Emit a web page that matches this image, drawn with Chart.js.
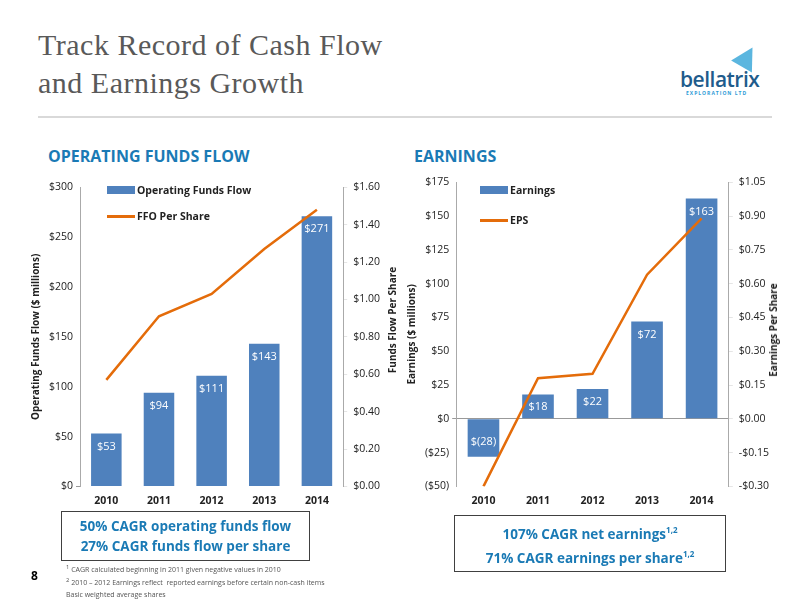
<!DOCTYPE html>
<html><head><meta charset="utf-8">
<script src="https://cdn.jsdelivr.net/npm/chart.js@4"></script>
<style>
body{margin:0;width:800px;height:600px;position:relative;background:#fff;font-family:"Open Sans",sans-serif;overflow:hidden}
.abs{position:absolute}
.title{left:38px;top:26px;font-family:"Liberation Serif",serif;font-size:30px;line-height:38px;color:#595959;letter-spacing:0.5px}
.rule{left:38px;top:116px;width:734px;height:2px;background:#d9d9d9}
.h{font-size:16px;font-weight:bold;color:#1a7ab5}
.box{border:1.5px solid #404040;text-align:center;color:#1a7ab5;font-weight:bold;font-size:13.5px;line-height:20px;padding:4px 0}
.leg{font-size:10.5px;font-weight:bold;color:#222;display:flex;align-items:center}
.sw{display:inline-block;width:28px;margin-right:2px}
.fn{left:66px;top:564px;font-size:7px;color:#555;line-height:11px}
.rt{font-size:10px;font-weight:bold;color:#222;transform:translate(-50%,-50%) rotate(-90deg);white-space:nowrap}
</style></head><body>
<div class="abs title">Track Record of Cash Flow<br>and Earnings Growth</div>
<div class="abs" style="left:680px;top:65px;font-size:21px;color:#1f5c8c;font-weight:600;letter-spacing:-0.5px">bellatrix</div>
<div class="abs" style="left:686px;top:90px;font-size:5px;color:#2e9bd6;letter-spacing:1px;font-weight:bold">EXPLORATION LTD</div>
<div class="abs" style="left:735px;top:46px;width:0;height:0;border-left:12px solid transparent;border-right:12px solid transparent;border-bottom:22px solid #5bb6df;transform:rotate(30deg)"></div>
<div class="abs rule"></div>
<div class="abs h" style="left:48px;top:145px">OPERATING FUNDS FLOW</div>
<div class="abs h" style="left:414px;top:145px">EARNINGS</div>
<canvas id="c1" class="abs" style="left:20px;top:175px"></canvas>
<canvas id="c2" class="abs" style="left:400px;top:170px"></canvas>
<div class="abs rt" style="left:392px;top:320px">Funds Flow Per Share</div>
<div class="abs rt" style="left:773px;top:330px">Earnings Per Share</div>
<div class="abs leg" style="left:107px;top:183px"><span class="sw" style="height:8px;background:#4f81bd"></span>Operating Funds Flow</div>
<div class="abs leg" style="left:107px;top:209px"><span class="sw" style="height:3px;background:#e46c0a"></span>FFO Per Share</div>
<div class="abs leg" style="left:480px;top:183px"><span class="sw" style="height:8px;background:#4f81bd"></span>Earnings</div>
<div class="abs leg" style="left:480px;top:213px"><span class="sw" style="height:3px;background:#e46c0a"></span>EPS</div>
<div class="abs box" style="left:61px;top:511px;width:247px">50% CAGR operating funds flow<br>27% CAGR funds flow per share</div>
<div class="abs box" style="left:454px;top:515px;width:270px">107% CAGR net earnings<sup style="font-size:8px">1,2</sup><br>71% CAGR earnings per share<sup style="font-size:8px">1,2</sup></div>
<div class="abs" style="left:31px;top:567px;font-size:12px;font-weight:bold">8</div>
<div class="abs fn" style="top:562px"><sup>1</sup> CAGR calculated beginning in 2011 given negative values in 2010<br><sup>2</sup> 2010 – 2012 Earnings reflect&nbsp; reported earnings before certain non-cash items<br>Basic weighted average shares</div>
<script>
const years = ["2010", "2011", "2012", "2013", "2014"];
const fundsFlow = [53, 94, 111, 143, 271];
const ffoPerShare = [0.57, 0.91, 1.03, 1.27, 1.48];
const earnings = [-28, 18, 22, 72, 163];
const eps = [-0.30, 0.18, 0.20, 0.64, 0.89];

const barColor = "#4f81bd", lineColor = "#e46c0a";
Chart.defaults.font.family = "'Open Sans', sans-serif";
Chart.defaults.color = "#222";

const barLabels = {
  id: "barLabels",
  afterDatasetsDraw(chart) {
    const c = chart.ctx;
    const meta = chart.getDatasetMeta(0);
    c.save();
    c.fillStyle = "#fff";
    c.font = "11px 'Open Sans'";
    c.textAlign = "center";
    meta.data.forEach((bar, i) => {
      const v = chart.data.datasets[0].data[i];
      const txt = v < 0 ? "$(" + (-v) + ")" : "$" + v;
      const y = v < 0 ? bar.y - 12 : bar.y + 16;
      c.fillText(txt, bar.x, y);
    });
    c.restore();
  }
};

function make(id, w, h, pad, bars, line, y, y1, yTitle, fmtY, fmtY1, zeroLine) {
  const el = document.getElementById(id);
  el.width = w; el.height = h;
  el.style.width = w + "px"; el.style.height = h + "px";
  return new Chart(el, {
    data: {
      labels: years,
      datasets: [
        { type: "bar", data: bars, backgroundColor: barColor, yAxisID: "y", barPercentage: 0.58, categoryPercentage: 1, order: 2 },
        { type: "line", data: line, borderColor: lineColor, borderWidth: 2.5, pointRadius: 0, yAxisID: "y1", tension: 0, order: 1 },
      ],
    },
    options: {
      responsive: false,
      animation: false,
      layout: { padding: pad },
      plugins: { legend: { display: false }, tooltip: { enabled: false } },
      scales: {
        x: { grid: { display: false, drawTicks: false }, border: { display: false }, ticks: { font: { size: 10.5, weight: "bold" }, padding: 8 } },
        y: {
          position: "left", min: y[0], max: y[1], ticks: { stepSize: y[2], font: { size: 10.5 }, callback: fmtY },
          grid: { drawOnChartArea: zeroLine, color: c => c.tick.value === 0 ? "#999" : "transparent", tickLength: 4 },
          border: { color: "#aaa" },
          title: { display: true, text: yTitle, font: { size: 10, weight: "bold" } },
        },
        y1: {
          position: "right", min: y1[0], max: y1[1], ticks: { stepSize: y1[2], font: { size: 10.5 }, callback: fmtY1, padding: 6 },
          grid: { drawOnChartArea: false, tickLength: 4 }, border: { color: "#aaa" },
        },
      },
    },
    plugins: [barLabels],
  });
}

make("c1", 390, 340, { top: 8, left: 6, right: 24 }, fundsFlow, ffoPerShare, [0, 300, 50], [0, 1.6, 0.2],
  "Operating Funds Flow ($ millions)",
  v => "$" + v, v => "$" + v.toFixed(2), false);

make("c2", 395, 345, { top: 9, left: 2, right: 20 }, earnings, eps, [-50, 175, 25], [-0.3, 1.05, 0.15],
  "Earnings ($ millions)",
  v => v < 0 ? "($" + (-v) + ")" : "$" + v,
  v => { const r = Math.round(v * 100) / 100; return r < 0 ? "-$" + (-r).toFixed(2) : "$" + r.toFixed(2); }, true);
</script>
</body></html>
